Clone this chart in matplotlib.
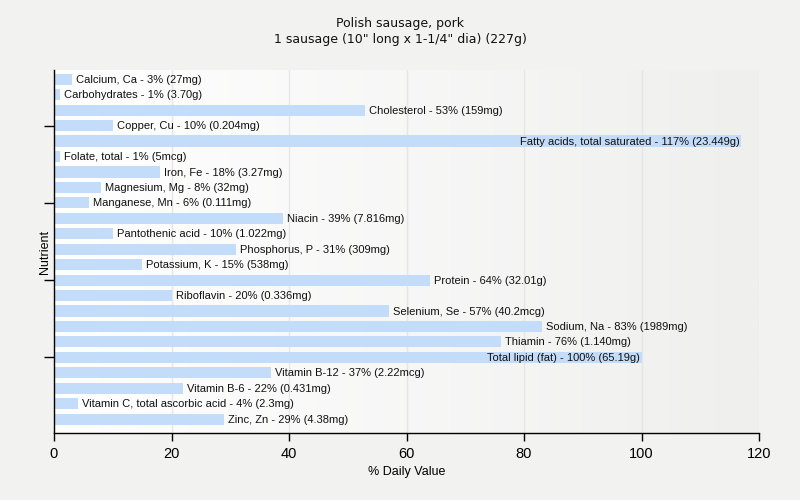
import matplotlib
matplotlib.use("Agg")
import matplotlib.pyplot as plt
import numpy as np
from matplotlib.colors import LinearSegmentedColormap

nutrients = ["Calcium, Ca", "Carbohydrates", "Cholesterol", "Copper, Cu",
             "Fatty acids, total saturated", "Folate, total", "Iron, Fe",
             "Magnesium, Mg", "Manganese, Mn", "Niacin", "Pantothenic acid",
             "Phosphorus, P", "Potassium, K", "Protein", "Riboflavin",
             "Selenium, Se", "Sodium, Na", "Thiamin", "Total lipid (fat)",
             "Vitamin B-12", "Vitamin B-6", "Vitamin C, total ascorbic acid",
             "Zinc, Zn"]
percents = [3, 1, 53, 10, 117, 1, 18, 8, 6, 39, 10, 31, 15, 64, 20, 57, 83,
            76, 100, 37, 22, 4, 29]
amounts = ["27mg", "3.70g", "159mg", "0.204mg", "23.449g", "5mcg", "3.27mg",
           "32mg", "0.111mg", "7.816mg", "1.022mg", "309mg", "538mg", "32.01g",
           "0.336mg", "40.2mcg", "1989mg", "1.140mg", "65.19g", "2.22mcg",
           "0.431mg", "2.3mg", "4.38mg"]
xticks = [0, 20, 40, 60, 80, 100, 120]

font = "Liberation Sans"

fig = plt.figure(figsize=(8, 5), dpi=100, facecolor="#f2f2f1")
ax = fig.add_axes([54/800, 67/500, 705/800, 363/500])
ax.set_facecolor("none")

n = len(nutrients)
ypos = np.arange(n)
ax.set_xlim(0, 120)
ax.set_ylim(n - 0.1, -0.6)

grad = np.linspace(0, 1, 256).reshape(1, -1)
cmap = LinearSegmentedColormap.from_list("g", ["#ffffff", "#efefee"])
ax.imshow(grad, cmap=cmap, aspect="auto", extent=[0, 120, n - 0.1, -0.6],
          zorder=0)

for xv in xticks[1:]:
    ax.axvline(xv, color="#e6e6e6", lw=1, zorder=1)

ax.barh(ypos, percents, height=0.72, color="#c2dcfa", zorder=2)

fs = 8
renderer = fig.canvas.get_renderer()
axbb = ax.get_window_extent(renderer=renderer)
for i, (nm, p, a) in enumerate(zip(nutrients, percents, amounts)):
    label = f"{nm} - {p}% ({a})"
    t = ax.text(p + 0.7, i + 0.04, label, va="center", ha="left", fontsize=fs,
                color="#111111", zorder=3, family=font)
    bb = t.get_window_extent(renderer=renderer)
    if bb.x1 > axbb.x1:
        t.set_position((p - 0.3, i + 0.04))
        t.set_ha("right")

ax.set_xticks(xticks)
ax.set_xticklabels([str(v) for v in xticks], fontsize=10.5, family=font)
ax.set_yticks([3, 8, 13, 18])
ax.set_yticklabels([])
ax.tick_params(axis="y", length=7, width=1, color="black")
ax.tick_params(axis="x", length=6, width=1, color="black", pad=4)
for s in ["top", "right"]:
    ax.spines[s].set_visible(False)
for s in ["left", "bottom"]:
    ax.spines[s].set_color("black")
    ax.spines[s].set_linewidth(1)

ax.set_xlabel("% Daily Value", fontsize=9, family=font, labelpad=4)
ax.set_ylabel("Nutrient", fontsize=9, family=font, labelpad=-8)
fig.suptitle("Polish sausage, pork\n1 sausage (10\" long x 1-1/4\" dia) (227g)",
             fontsize=9, y=0.965, color="#111111", family="DejaVu Sans")

fig.savefig("out.png", dpi=100, facecolor=fig.get_facecolor())
